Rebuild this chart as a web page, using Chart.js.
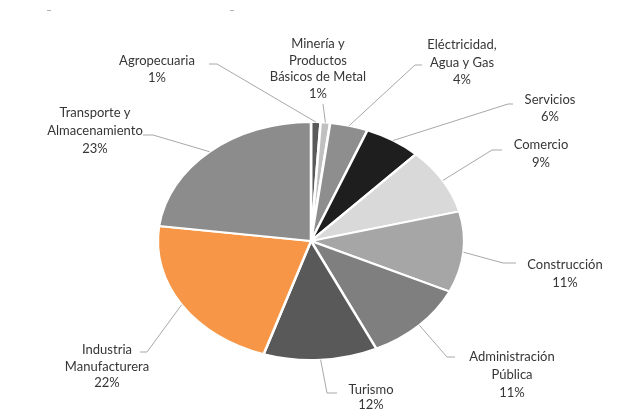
<!DOCTYPE html>
<html>
<head>
<meta charset="utf-8">
<script src="https://cdn.jsdelivr.net/npm/chart.js@4"></script>
<style>
    html, body { margin: 0; padding: 0; background: #fff; }
    #pie { display: block; }
</style>
</head>
<body>
<canvas id="pie" width="618" height="409"></canvas>
<script>
// categorías en orden de las manecillas del reloj, empezando arriba
const categories = [
    ['Agropecuaria'],
    ['Minería y', 'Productos', 'Básicos de Metal'],
    ['Eléctricidad,', 'Agua y Gas'],
    ['Servicios'],
    ['Comercio'],
    ['Construcción'],
    ['Administración', 'Pública'],
    ['Turismo'],
    ['Industria', 'Manufacturera'],
    ['Transporte y', 'Almacenamiento'],
];
const shares = [1, 1, 4, 6, 9, 11, 11, 12, 22, 23];

const sliceColors = ['#5a5a5a', '#c0c0c0', '#8e8e8e', '#1e1e1e', '#d9d9d9',
    '#a6a6a6', '#7f7f7f', '#595959', '#f79646', '#8c8c8c'];

// donde va el texto de cada etiqueta: [centro x, y primera línea, alto de línea]
const labelText = [
    [157, 61, 17], [318, 44, 16.5], [462, 45, 17.5], [550, 100, 17], [541, 145, 18],
    [565, 265, 18], [512, 357, 18], [371, 390, 15], [107, 350, 16.5], [95, 113, 18],
];
// codo y final de la línea guía
const leaderBends = [
    [[217, 64], [209, 64]], [[323, 104], [323, 104]], [[415, 65], [422, 65]],
    [[508, 104], [513, 104]], [[492, 150], [502, 150]], [[503, 263], [516, 263]],
    [[447, 357], [455, 357]], [[327, 393], [337, 393]], [[147, 352], [140, 352]],
    [[153, 135], [143, 135]],
];

// el pastel original está estirado a lo ancho
const stretchX = 154.5 / 120;

const stretchPlugin = {
    id: 'stretch',
    beforeDatasetsDraw(chart) {
        const arc = chart.getDatasetMeta(0).data[0];
        const ctx = chart.ctx;
        ctx.save();
        ctx.translate(arc.x, 0);
        ctx.scale(stretchX, 1);
        ctx.translate(-arc.x, 0);
    },
    afterDatasetsDraw(chart) {
        chart.ctx.restore();
    }
};

const labelPlugin = {
    id: 'leaderLabels',
    afterDraw(chart) {
        const ctx = chart.ctx;
        const arcs = chart.getDatasetMeta(0).data;
        ctx.save();
        arcs.forEach((arc, i) => {
            const mid = (arc.startAngle + arc.endAngle) / 2;
            const sx = arc.x + Math.cos(mid) * arc.outerRadius * stretchX;
            const sy = arc.y + Math.sin(mid) * arc.outerRadius;
            const [bend, end] = leaderBends[i];

            ctx.strokeStyle = '#a8a8a8';
            ctx.lineWidth = 1;
            ctx.beginPath();
            ctx.moveTo(sx, sy);
            ctx.lineTo(bend[0], bend[1]);
            ctx.lineTo(end[0], end[1]);
            ctx.stroke();

            const [tx, ty, lh] = labelText[i];
            const lines = categories[i].concat([shares[i] + '%']);
            ctx.fillStyle = '#363636';
            ctx.font = '13px Lato';
            ctx.textAlign = 'center';
            ctx.textBaseline = 'middle';
            lines.forEach((line, j) => {
                ctx.fillText(line, tx, ty + j * lh);
            });
        });

        // restos del título recortado
        ctx.fillStyle = '#b0b0b0';
        ctx.fillRect(47, 10, 4, 1);
        ctx.fillRect(230, 10, 4, 1);
        ctx.restore();
    }
};

new Chart(document.getElementById('pie'), {
    type: 'pie',
    data: {
        labels: categories.map(c => c.join(' ')),
        datasets: [{
            data: shares,
            backgroundColor: sliceColors,
            borderColor: '#ffffff',
            borderWidth: 2
        }]
    },
    options: {
        responsive: false,
        animation: false,
        layout: {
            padding: { top: 121, bottom: 48, left: 111, right: 107 }
        },
        plugins: {
            legend: { display: false },
            tooltip: { enabled: false }
        }
    },
    plugins: [stretchPlugin, labelPlugin]
});
</script>
</body>
</html>
